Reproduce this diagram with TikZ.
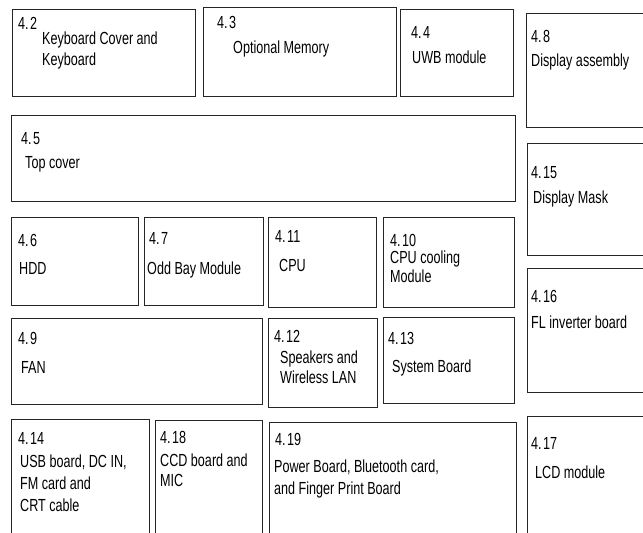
\documentclass[tikz,border=0pt]{standalone}
\usepackage{fontspec}
\setmainfont{Liberation Sans}[FakeStretch=0.72]
\begin{document}
\begin{tikzpicture}[
		x=1pt, y=-1pt,
		part/.style 2 args = {rectangle, draw=black!85, line width=1.3pt, anchor=north west, inner sep=0, minimum width=#1, minimum height=#2},
		t/.style = {anchor=base west, inner sep=0, font=\fontsize{17.5}{20}\selectfont}
		]
		\clip (0,0) rectangle (643,533);
		
		%Boxes
		\node[part={183pt}{87pt}]	(kb)	at	(12, 9)		{};
		\node[part={193pt}{89pt}]	(mem)	at	(203, 7)	{};
		\node[part={113pt}{87pt}]	(uwb)	at	(400, 9)	{};
		\node[part={130pt}{114pt}]	(disp)	at	(526, 13)	{};
		\node[part={504pt}{86pt}]	(top)	at	(11, 115)	{};
		\node[part={130pt}{112pt}]	(mask)	at	(527, 143)	{};
		\node[part={127pt}{88pt}]	(hdd)	at	(11, 217)	{};
		\node[part={119pt}{88pt}]	(odd)	at	(144, 217)	{};
		\node[part={108pt}{90pt}]	(cpu)	at	(268, 217)	{};
		\node[part={131pt}{90pt}]	(cool)	at	(383, 217)	{};
		\node[part={130pt}{124pt}]	(inv)	at	(527, 268)	{};
		\node[part={251pt}{86pt}]	(fan)	at	(11, 318)	{};
		\node[part={109pt}{89pt}]	(spk)	at	(268, 318)	{};
		\node[part={131pt}{86pt}]	(sys)	at	(383, 317)	{};
		\node[part={138pt}{130pt}]	(usb)	at	(11, 419)	{};
		\node[part={107pt}{130pt}]	(ccd)	at	(155, 420)	{};
		\node[part={247pt}{130pt}]	(pwr)	at	(269, 422)	{};
		\node[part={130pt}{130pt}]	(lcd)	at	(527, 416)	{};
		
		%Labels
		\node[t]	(kb-n)	at	(18, 29)	{4.\kern1.5pt 2};
		\node[t]	(kb-a)	at	(42, 44)	{Keyboard Cover and};
		\node[t]	(kb-b)	at	(42, 65)	{Keyboard};
		\node[t]	(mem-n)	at	(217, 28)	{4.\kern1.5pt 3};
		\node[t]	(mem-a)	at	(233, 53)	{Optional Memory};
		\node[t]	(uwb-n)	at	(411, 38)	{4.\kern1.5pt 4};
		\node[t]	(uwb-a)	at	(412, 63)	{UWB module};
		\node[t]	(disp-n)	at	(531, 42)	{4.\kern1.5pt 8};
		\node[t]	(disp-a)	at	(531, 66)	{Display assembly};
		\node[t]	(top-n)	at	(21, 144)	{4.\kern1.5pt 5};
		\node[t]	(top-a)	at	(25, 168)	{Top cover};
		\node[t]	(mask-n)	at	(531, 178)	{4.\kern1.5pt 15};
		\node[t]	(mask-a)	at	(533, 203)	{Display Mask};
		\node[t]	(hdd-n)	at	(18, 246)	{4.\kern1.5pt 6};
		\node[t]	(hdd-a)	at	(19, 274)	{HDD};
		\node[t]	(odd-n)	at	(149, 244)	{4.\kern1.5pt 7};
		\node[t]	(odd-a)	at	(147, 274)	{Odd Bay Module};
		\node[t]	(cpu-n)	at	(275, 242)	{4.\kern1.5pt 11};
		\node[t]	(cpu-a)	at	(279, 271)	{CPU};
		\node[t]	(cool-n)	at	(390, 246)	{4.\kern1.5pt 10};
		\node[t]	(cool-a)	at	(390, 263)	{CPU cooling};
		\node[t]	(cool-b)	at	(390, 282)	{Module};
		\node[t]	(inv-n)	at	(531, 302)	{4.\kern1.5pt 16};
		\node[t]	(inv-a)	at	(531, 328)	{FL inverter board};
		\node[t]	(fan-n)	at	(18, 344)	{4.\kern1.5pt 9};
		\node[t]	(fan-a)	at	(21, 373)	{FAN};
		\node[t]	(spk-n)	at	(274, 342)	{4.\kern1.5pt 12};
		\node[t]	(spk-a)	at	(280, 363)	{Speakers and};
		\node[t]	(spk-b)	at	(280, 383)	{Wireless LAN};
		\node[t]	(sys-n)	at	(388, 344)	{4.\kern1.5pt 13};
		\node[t]	(sys-a)	at	(392, 372)	{System Board};
		\node[t]	(usb-n)	at	(18, 444)	{4.\kern1.5pt 14};
		\node[t]	(usb-a)	at	(20, 467)	{USB board, DC IN,};
		\node[t]	(usb-b)	at	(20, 489)	{FM card and};
		\node[t]	(usb-c)	at	(20, 511)	{CRT cable};
		\node[t]	(ccd-n)	at	(160, 443)	{4.\kern1.5pt 18};
		\node[t]	(ccd-a)	at	(160, 466)	{CCD board and};
		\node[t]	(ccd-b)	at	(160, 486)	{MIC};
		\node[t]	(pwr-n)	at	(275, 445)	{4.\kern1.5pt 19};
		\node[t]	(pwr-a)	at	(274, 472)	{Power Board, Bluetooth card,};
		\node[t]	(pwr-b)	at	(274, 494)	{and Finger Print Board};
		\node[t]	(lcd-n)	at	(531, 449)	{4.\kern1.5pt 17};
		\node[t]	(lcd-a)	at	(535, 478)	{LCD module};
	\end{tikzpicture}
\end{document}
